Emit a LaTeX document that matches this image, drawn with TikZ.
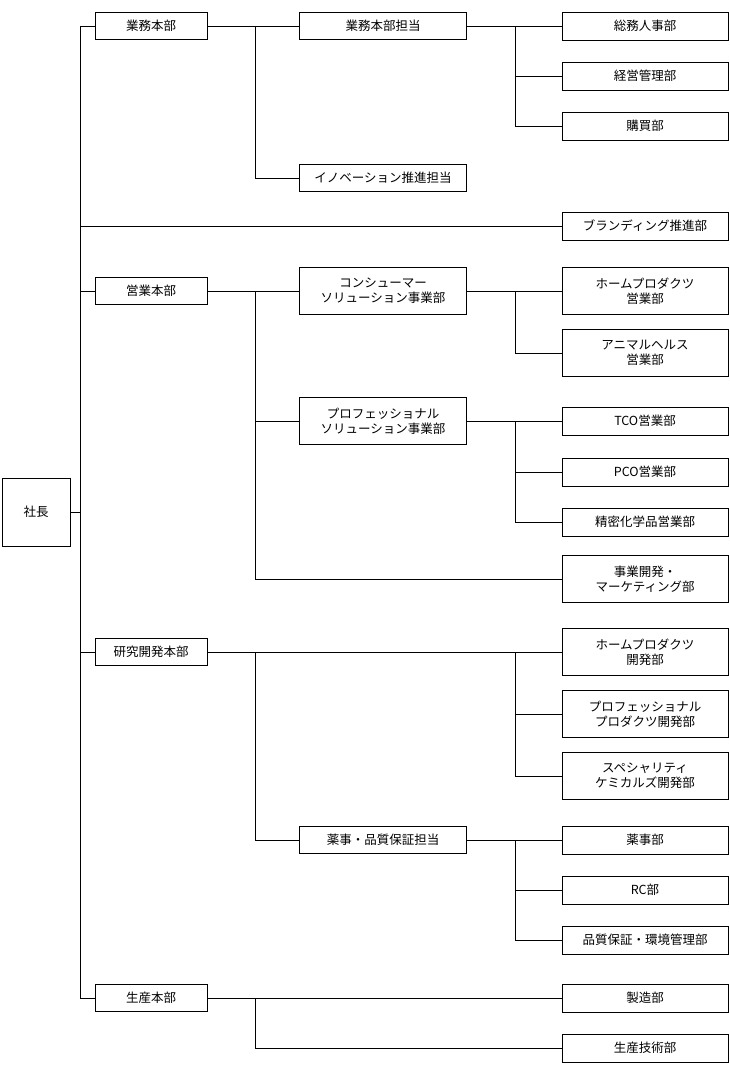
\documentclass[tikz,border=0pt]{standalone}
\usepackage{fontspec}
\newfontfamily\jpfont{Noto Sans CJK JP}
\usetikzlibrary{positioning}
\begin{document}
\begin{tikzpicture}[x=1pt,y=-1pt,
    box/.style={draw, thin, fill=white, font=\jpfont\fontsize{12.5}{15}\selectfont, align=center, inner sep=1pt},
    lvone/.style={box, minimum width=112pt, minimum height=27pt},
    lvtwo/.style={box, minimum width=167pt, minimum height=27pt},
    lvthree/.style={box, minimum width=166pt, minimum height=28pt},
    tall/.style={minimum height=47pt},
    conn/.style={draw, thin}
]
\useasboundingbox (0,0) rectangle (730,1072);
% bus lines
\coordinate (tr) at (80,0);
\coordinate (bt) at (255,0);
\coordinate (bh) at (515,0);

% root
\node[box, minimum width=68pt, minimum height=68pt] (ceo) at (36,512) {社長};

% level 1
\node[lvone] (gyomu) at (151,26) {業務本部};
\node[lvone] (eigyo) at (151,291) {営業本部};
\node[lvone] (kenkyu) at (151,652) {研究開発本部};
\node[lvone] (seisan) at (151,998) {生産本部};

% level 2
\node[lvtwo] (gtanto) at (383,26) {業務本部担当};
\node[lvtwo] (innov) at (383,178) {イノベーション推進担当};
\node[lvtwo, tall] (consumer) at (383,291) {コンシューマー\\ソリューション事業部};
\node[lvtwo, tall] (prof) at (383,421) {プロフェッショナル\\ソリューション事業部};
\node[lvtwo] (yakuji) at (383,840) {薬事・品質保証担当};

% level 3
\node[lvthree] (somu) at (645,26) {総務人事部};
\node[lvthree] (keiei) at (645,76) {経営管理部};
\node[lvthree] (kobai) at (645,126) {購買部};
\node[lvthree] (brand) at (645,226) {ブランディング推進部};
\node[lvthree, tall] (homeei) at (645,291) {ホームプロダクツ\\営業部};
\node[lvthree, tall] (animal) at (645,353) {アニマルヘルス\\営業部};
\node[lvthree] (tco) at (645,421) {TCO営業部};
\node[lvthree] (pco) at (645,472) {PCO営業部};
\node[lvthree] (seimitsu) at (645,522) {精密化学品営業部};
\node[lvthree, tall] (jigyo) at (645,579) {事業開発・\\マーケティング部};
\node[lvthree, tall] (homekai) at (645,652) {ホームプロダクツ\\開発部};
\node[lvthree, tall] (profkai) at (645,714) {プロフェッショナル\\プロダクツ開発部};
\node[lvthree, tall] (special) at (645,776) {スペシャリティ\\ケミカルズ開発部};
\node[lvthree] (yakujibu) at (645,840) {薬事部};
\node[lvthree] (rc) at (645,890) {RC部};
\node[lvthree] (hinshitsu) at (645,940) {品質保証・環境管理部};
\node[lvthree] (seizo) at (645,998) {製造部};
\node[lvthree] (gijutsu) at (645,1048) {生産技術部};

% trunk
\draw[conn] (ceo.east) -- (ceo.east -| tr);
\draw[conn] (gyomu.west) -- (gyomu.west -| tr) -- (seisan.west -| tr) -- (seisan.west);
\foreach \n in {eigyo, kenkyu, brand}
  \draw[conn] (\n.west) -- (\n.west -| tr);

% 業務本部
\draw[conn] (gyomu.east) -- (gtanto.west);
\draw[conn] (gyomu.east -| bt) |- (innov.west);
\draw[conn] (gtanto.east) -- (somu.west);
\draw[conn] (somu.west -| bh) |- (kobai.west);
\draw[conn] (keiei.west) -- (keiei.west -| bh);

% 営業本部
\draw[conn] (eigyo.east) -- (consumer.west);
\draw[conn] (eigyo.east -| bt) |- (jigyo.west);
\draw[conn] (prof.west) -- (prof.west -| bt);
\draw[conn] (consumer.east) -- (homeei.west);
\draw[conn] (homeei.west -| bh) |- (animal.west);
\draw[conn] (prof.east) -- (tco.west);
\draw[conn] (tco.west -| bh) |- (seimitsu.west);
\draw[conn] (pco.west) -- (pco.west -| bh);

% 研究開発本部
\draw[conn] (kenkyu.east) -- (homekai.west);
\draw[conn] (homekai.west -| bh) |- (special.west);
\draw[conn] (profkai.west) -- (profkai.west -| bh);
\draw[conn] (kenkyu.east -| bt) |- (yakuji.west);
\draw[conn] (yakuji.east) -- (yakujibu.west);
\draw[conn] (yakujibu.west -| bh) |- (hinshitsu.west);
\draw[conn] (rc.west) -- (rc.west -| bh);

% 生産本部
\draw[conn] (seisan.east) -- (seizo.west);
\draw[conn] (seisan.east -| bt) |- (gijutsu.west);
\end{tikzpicture}
\end{document}
